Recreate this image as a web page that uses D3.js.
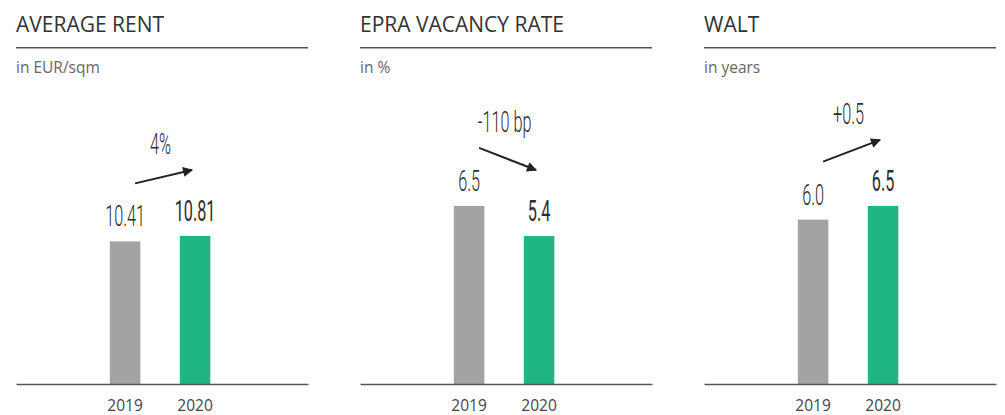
<!DOCTYPE html>
<html>
<head>
<meta charset="utf-8">
<script src="https://cdn.jsdelivr.net/npm/d3@7"></script>
<style>
  body { margin: 0; background: #fff; }
  svg { display: block; }
  .title { font-family: "Open Sans", sans-serif; font-size: 21px; fill: #333; }
  .unit { font-family: "Open Sans", sans-serif; font-size: 15.5px; fill: #666; }
  .axis text { font-family: "Open Sans", sans-serif; font-size: 15.5px; fill: #444; }
  .axis path { stroke: #555; stroke-width: 1.6px; }
  .value, .change { font-family: Roboto, sans-serif; font-size: 29px; fill: #2e2e2e; }
  .change { font-weight: 300; }
</style>
</head>
<body>
<svg width="1005" height="415"></svg>
<script>
"use strict";

var titles = ["AVERAGE RENT", "EPRA VACANCY RATE", "WALT"];
var units = ["in EUR/sqm", "in %", "in years"];
var years = ["2019", "2020"];
var values2019 = [10.41, 6.5, 6.0];
var values2020 = [10.81, 5.4, 6.5];
var labels2019 = ["10.41", "6.5", "6.0"];
var labels2020 = ["10.81", "5.4", "6.5"];
var changeLabels = ["4%", "-110 bp", "+0.5"];
var yMax = [14.6, 7.3, 7.3];

window.onload = renderMyChart;

function renderMyChart() {
    var svg = d3.select("svg"),
        panelWidth = 292,
        panelStep = 344,
        left = 16,
        base = 384,
        barsHeight = 200;

    svg.append("defs").append("marker")
        .attr("id", "head")
        .attr("viewBox", "0 0 10 10")
        .attr("refX", 9)
        .attr("refY", 5)
        .attr("markerWidth", 6)
        .attr("markerHeight", 5)
        .attr("markerUnits", "strokeWidth")
        .attr("orient", "auto")
        .append("path")
        .attr("d", "M0,0L10,5L0,10z")
        .attr("fill", "#222");

    titles.forEach(function (title, i) {
        var g = svg.append("g")
            .attr("transform", "translate(" + (left + i * panelStep) + ",0)");

        var x = d3.scaleBand().domain(years).range([0, panelWidth])
            .paddingInner(0.564).paddingOuter(1.368).align(0.49);
        var y = d3.scaleLinear().domain([0, yMax[i]]).range([base, base - barsHeight]);

        var data = [
            { year: years[0], value: values2019[i], label: labels2019[i], color: "#a3a3a3", weight: 300 },
            { year: years[1], value: values2020[i], label: labels2020[i], color: "#20b585", weight: 400 }
        ];

        g.append("text").attr("class", "title").attr("x", 0).attr("y", 32).text(title);
        g.append("line")
            .attr("x1", 0).attr("x2", panelWidth)
            .attr("y1", 47.7).attr("y2", 47.7)
            .attr("stroke", "#555").attr("stroke-width", 1.6);
        g.append("text").attr("class", "unit").attr("x", 0).attr("y", 73.3).text(units[i]);

        g.selectAll(".bar")
            .data(data)
            .enter().append("rect")
            .attr("class", "bar")
            .attr("x", function (d) { return x(d.year); })
            .attr("y", function (d) { return y(d.value); })
            .attr("width", x.bandwidth())
            .attr("height", function (d) { return base - y(d.value); })
            .attr("fill", function (d) { return d.color; });

        g.selectAll(".value")
            .data(data)
            .enter().append("text")
            .attr("class", "value")
            .attr("text-anchor", "middle")
            .attr("font-weight", function (d) { return d.weight; })
            .attr("transform", function (d) {
                return "translate(" + (x(d.year) + x.bandwidth() / 2) + "," + (y(d.value) - 15) + ") scale(0.56,1)";
            })
            .text(function (d) { return d.label; });

        g.append("g")
            .attr("class", "axis")
            .attr("transform", "translate(0," + base + ")")
            .call(d3.axisBottom(x).tickSize(0).tickPadding(15.5));

        // trend arrow between the bars
        var x1 = x(years[0]) + x.bandwidth() / 2 + 10,
            y1 = y(values2019[i]) - 58,
            x2 = x(years[1]) + x.bandwidth() / 2 - 3,
            y2 = y(values2020[i]) - 66;

        g.append("line")
            .attr("x1", x1).attr("y1", y1)
            .attr("x2", x2).attr("y2", y2)
            .attr("stroke", "#222")
            .attr("stroke-width", 2)
            .attr("marker-end", "url(#head)");

        g.append("text")
            .attr("class", "change")
            .attr("text-anchor", "middle")
            .attr("transform", "translate(" + ((x1 + x2) / 2 - 3) + "," + (Math.min(y1, y2) - 16) + ") scale(0.56,1)")
            .text(changeLabels[i]);
    });
}
</script>
</body>
</html>
